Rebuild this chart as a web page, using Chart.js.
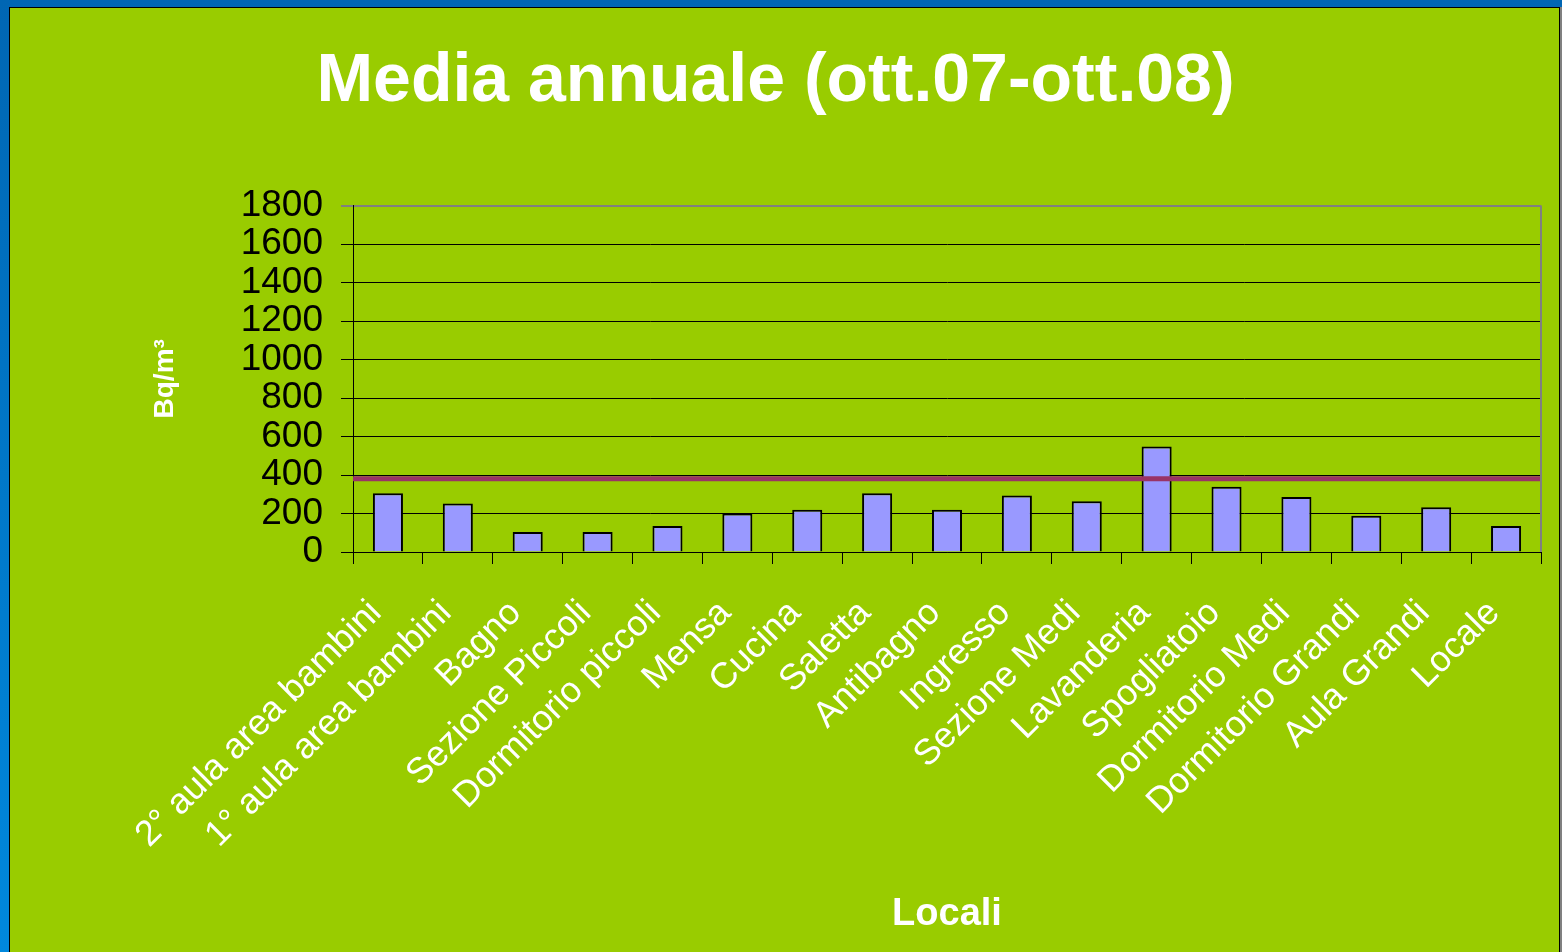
<!DOCTYPE html>
<html>
<head>
<meta charset="utf-8">
<title>Media annuale (ott.07-ott.08)</title>
<script src="https://cdn.jsdelivr.net/npm/chart.js@4.4.1/dist/chart.umd.min.js"></script>
<style>
  html, body {
    margin: 0;
    padding: 0;
    width: 1562px;
    height: 952px;
    overflow: hidden;
    background: linear-gradient(to bottom, #0066b3, #0088dd);
  }
  #slide {
    position: absolute;
    left: 9px;
    top: 7px;
    width: 1549px;
    height: 945px;
    background: #99cc00;
    border-left: 1px solid #000;
    border-top: 1px solid #000;
    border-right: 1px solid #000;
    box-shadow: 2px 0 0 #808080;
  }
  #chart-box {
    position: absolute;
    left: 0;
    top: 0;
    width: 1549px;
    height: 944px;
  }
</style>
</head>
<body>
<div id="slide">
  <div id="chart-box"><canvas id="mediaChart"></canvas></div>
</div>
<script>
// Rooms measured (x axis categories)
const locali = [
    "2° aula area bambini",
    "1° aula area bambini",
    "Bagno",
    "Sezione Piccoli",
    "Dormitorio piccoli",
    "Mensa",
    "Cucina",
    "Saletta",
    "Antibagno",
    "Ingresso",
    "Sezione Medi",
    "Lavanderia",
    "Spogliatoio",
    "Dormitorio Medi",
    "Dormitorio Grandi",
    "Aula Grandi",
    "Locale"
];

// Annual mean radon concentration, Bq/m3
const mediaAnnuale = [305, 252, 104, 104, 135, 200, 220, 305, 220, 294, 264, 548, 339, 286, 188, 233, 135];

// Reference level drawn across the whole plot
const livelloRiferimento = 380;

// Y axis ticks
const yMin = 0;
const yMax = 1800;
const yStep = 200;

// Line spanning the plot, on a hidden linear axis 0..number of categories
const limitLine = [
    { x: 0, y: livelloRiferimento },
    { x: locali.length, y: livelloRiferimento }
];

const fontFamily = "'Liberation Sans', Arial, sans-serif";

// Grey right-hand edge of the plot area
const plotFrame = {
    id: "plotFrame",
    afterDraw(chart) {
        const { ctx, chartArea } = chart;
        ctx.save();
        ctx.strokeStyle = "#808080";
        ctx.lineWidth = 2;
        ctx.beginPath();
        ctx.moveTo(chartArea.right, chartArea.top);
        ctx.lineTo(chartArea.right, chartArea.bottom);
        ctx.stroke();
        ctx.restore();
    }
};

const mediaChart = new Chart(document.getElementById("mediaChart"), {
    type: "bar",
    data: {
        labels: locali,
        datasets: [
            {
                type: "line",
                label: "Livello di riferimento",
                data: limitLine,
                xAxisID: "xLine",
                borderColor: "#993366",
                borderWidth: 5,
                pointRadius: 0,
                fill: false,
                order: 1
            },
            {
                label: "Media annuale",
                data: mediaAnnuale,
                xAxisID: "x",
                backgroundColor: "#9999ff",
                borderColor: "#000000",
                borderWidth: 2,
                grouped: false,
                barPercentage: 0.43,
                categoryPercentage: 1,
                order: 2
            }
        ]
    },
    options: {
        responsive: true,
        maintainAspectRatio: false,
        animation: false,
        layout: {
            padding: { left: 0, right: 18, top: 0, bottom: 0 }
        },
        plugins: {
            legend: { display: false },
            tooltip: { enabled: false },
            title: {
                display: true,
                text: "Media annuale (ott.07-ott.08)",
                color: "#ffffff",
                font: { family: fontFamily, size: 68, weight: "bold", lineHeight: 1.2 },
                padding: { top: 33, bottom: 83 }
            }
        },
        scales: {
            x: {
                type: "category",
                offset: true,
                afterFit: (scale) => {
                    scale.height = 400;
                    scale.paddingRight = 0;
                },
                grid: {
                    offset: true,
                    drawOnChartArea: false,
                    drawTicks: true,
                    tickLength: 12,
                    color: "#000000"
                },
                border: { color: "#000000", width: 1 },
                ticks: {
                    color: "#ffffff",
                    autoSkip: false,
                    minRotation: 45,
                    maxRotation: 45,
                    padding: 28,
                    labelOffset: -12,
                    font: { family: fontFamily, size: 36, lineHeight: 1.2 }
                },
                title: {
                    display: true,
                    text: "Locali",
                    color: "#ffffff",
                    font: { family: fontFamily, size: 38, weight: "bold", lineHeight: 1.2 },
                    padding: { top: 10, bottom: 15 }
                }
            },
            xLine: {
                type: "linear",
                display: false,
                offset: false,
                min: 0,
                max: locali.length
            },
            y: {
                min: yMin,
                max: yMax,
                afterFit: (scale) => { scale.width = 343; },
                grid: {
                    color: (c) => (c.tick && c.tick.value === yMax ? "#808080" : "#000000"),
                    lineWidth: (c) => (c.tick && c.tick.value === yMax ? 2 : 1),
                    tickLength: 12
                },
                border: { color: "#000000", width: 1 },
                ticks: {
                    stepSize: yStep,
                    autoSkip: false,
                    color: "#000000",
                    padding: 18,
                    font: { family: fontFamily, size: 37, lineHeight: 1 },
                    callback: (value) => String(value)
                },
                title: {
                    display: true,
                    text: "Bq/m³",
                    color: "#ffffff",
                    font: { family: fontFamily, size: 28, weight: "bold", lineHeight: 1.2 },
                    padding: { top: 138, bottom: 10 }
                }
            }
        }
    },
    plugins: [plotFrame]
});
</script>
</body>
</html>
